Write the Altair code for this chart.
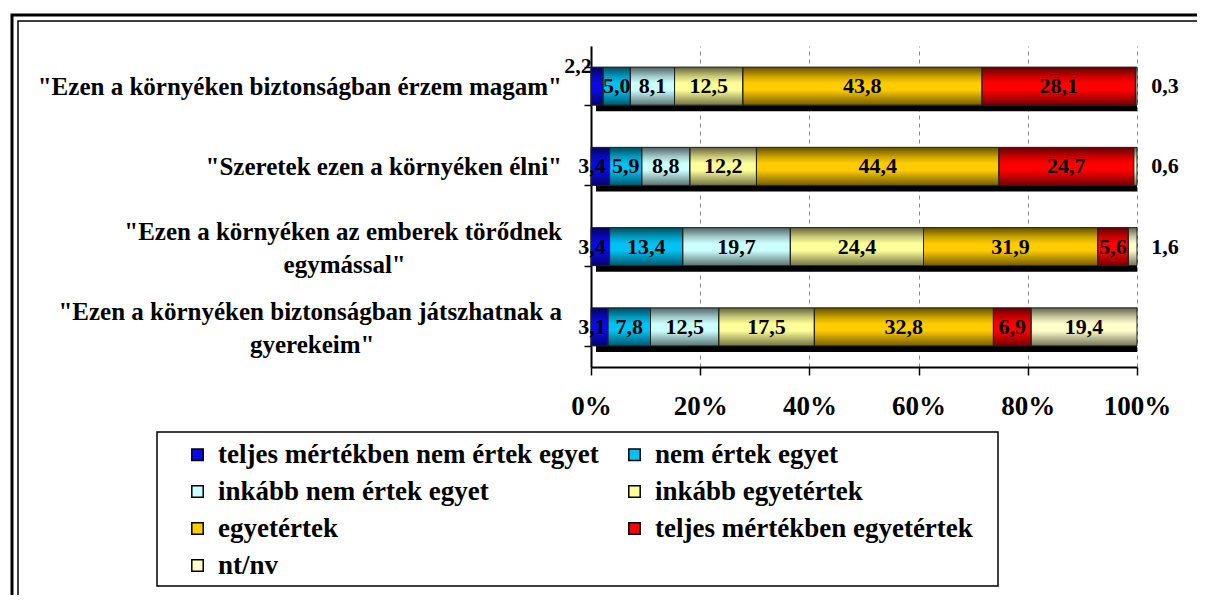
import altair as alt
import pandas as pd

# ---------------- data ----------------
categories = [
    '"Ezen a környéken biztonságban érzem magam"',
    '"Szeretek ezen a környéken élni"',
    '"Ezen a környéken az emberek törődnek|egymással"',
    '"Ezen a környéken biztonságban játszhatnak a|gyerekeim"',
]
series = [
    "teljes mértékben nem értek egyet",
    "nem értek egyet",
    "inkább nem értek egyet",
    "inkább egyetértek",
    "egyetértek",
    "teljes mértékben egyetértek",
    "nt/nv",
]
colors = ["#0a0ae8", "#00c2f2", "#ccffff", "#ffff99", "#ffcc00", "#ff0000", "#ffffcc"]

v_biztonsag = [2.2, 5.0, 8.1, 12.5, 43.8, 28.1, 0.3]
v_szeretek = [3.4, 5.9, 8.8, 12.2, 44.4, 24.7, 0.6]
v_torodnek = [3.4, 13.4, 19.7, 24.4, 31.9, 5.6, 1.6]
v_gyerekek = [3.1, 7.8, 12.5, 17.5, 32.8, 6.9, 19.4]
row_values = [v_biztonsag, v_szeretek, v_torodnek, v_gyerekek]

records = []
for ci, (cat, vals) in enumerate(zip(categories, row_values)):
    for si, (s, v) in enumerate(zip(series, vals)):
        records.append({"cat": cat, "ci": ci, "series": s, "si": si, "value": v})
df = pd.DataFrame(records)

FONT = "Liberation Serif"
NBSP = "\u00a0"
ZWSP = "\u200b"
line2_pad = {2: 25, 3: 30}   # centre the second line under the first

cat_rows = []
for ci, cat in enumerate(categories):
    lines = cat.split("|")
    if len(lines) > 1:
        lines[1] = lines[1] + NBSP * line2_pad.get(ci, 0) + ZWSP
    cat_rows.append({"cat": cat, "text": lines, "n": len(lines)})
cat_df = pd.DataFrame(cat_rows)

legend_order = series[0::2] + series[1::2]
legend_colors = colors[0::2] + colors[1::2]

base = (
    alt.Chart(df)
    .transform_window(
        cum="sum(value)", groupby=["cat"], sort=[alt.SortField("si")], frame=[None, 0]
    )
    .transform_calculate(
        end="datum.cum / 100",
        start="(datum.cum - datum.value) / 100",
        mid="(datum.cum - datum.value / 2) / 100",
        zero="0",
        lab="replace(format(datum.value, '.1f'), '.', ',')",
    )
)

yscale = alt.Scale(domain=categories, paddingInner=0.526, paddingOuter=0.263)
xscale = alt.Scale(domain=[0, 1], nice=False)

y_enc = alt.Y(
    "cat:N",
    scale=yscale,
    sort=categories,
    axis=alt.Axis(
        title=None,
        labels=False,
        tickSize=7,
        tickColor="black",
        tickWidth=1.5,
        tickBand="extent",
        domainColor="black",
        domainWidth=2,
        grid=False,
    ),
)

x_axis = alt.Axis(
    title=None,
    format=".0%",
    values=[0, 0.2, 0.4, 0.6, 0.8, 1.0],
    grid=True,
    gridDash=[4, 4],
    gridColor="#8a8a8a",
    gridWidth=1,
    domainColor="black",
    domainWidth=2,
    tickColor="black",
    tickWidth=1.5,
    tickSize=8,
    labelFont=FONT,
    labelFontSize=27,
    labelFontWeight="bold",
    labelColor="black",
    labelPadding=18,
    labelFlush=False,
)

shadow = base.transform_filter("datum.si == 6").mark_bar(color="black", xOffset=5, yOffset=6).encode(
    x=alt.X("zero:Q", scale=xscale, axis=x_axis),
    x2="end:Q",
    y=y_enc,
)

bars = base.mark_bar().encode(
    x=alt.X("start:Q", scale=xscale, axis=x_axis),
    x2="end:Q",
    y=y_enc,
    color=alt.Color(
        "series:N",
        scale=alt.Scale(domain=legend_order, range=legend_colors),
        sort=legend_order,
        legend=alt.Legend(
            title=None,
            orient="none",
            legendX=-407,
            legendY=395,
            columns=2,
            columnPadding=22,
            rowPadding=9,
            padding=0,
            symbolType="square",
            symbolSize=130,
            symbolStrokeColor="black",
            symbolStrokeWidth=1.5,
            labelFont=FONT,
            labelFontSize=27,
            labelFontWeight="bold",
            labelColor="black",
            labelLimit=1000,
            labelOffset=7,
        ),
    ),
)

shade = base.mark_bar(
    stroke="#222222",
    strokeWidth=1,
    color=alt.Gradient(
        gradient="linear",
        x1=0, x2=0, y1=0, y2=1,
        stops=[
            alt.GradientStop(color="rgba(0,0,0,0.62)", offset=0),
            alt.GradientStop(color="rgba(0,0,0,0.2)", offset=0.25),
            alt.GradientStop(color="rgba(0,0,0,0)", offset=0.42),
            alt.GradientStop(color="rgba(0,0,0,0)", offset=0.6),
            alt.GradientStop(color="rgba(0,0,0,0.55)", offset=1),
        ],
    ),
).encode(x="start:Q", x2="end:Q", y=y_enc)

text_style = dict(font=FONT, fontSize=22, fontWeight="bold", color="black", baseline="middle")

lab_main = base.transform_filter("datum.value >= 4").mark_text(align="center", **text_style).encode(
    x="mid:Q", y=y_enc, text="lab:N"
)
lab_first = base.transform_filter("datum.si == 0 && datum.value < 4 && datum.ci > 0").mark_text(
    align="center", dx=1, **text_style
).encode(x="start:Q", y=y_enc, text="lab:N")
lab_first_top = base.transform_filter("datum.si == 0 && datum.ci == 0").mark_text(
    align="center", dx=-13, dy=-20, **text_style
).encode(x="start:Q", y=y_enc, text="lab:N")
lab_last = base.transform_filter("datum.si == 6 && datum.value < 4").mark_text(
    align="center", dx=28, **text_style
).encode(x="end:Q", y=y_enc, text="lab:N")

# category labels (left of the axis)
cat_style = dict(font=FONT, fontSize=25, fontWeight="bold", color="black",
                 baseline="middle", align="right", lineHeight=33)
cat_base = alt.Chart(cat_df)
cat_single = cat_base.transform_filter("datum.n == 1").mark_text(dy=1, **cat_style).encode(
    x=alt.value(-29), y=y_enc, text="text"
)
cat_multi = cat_base.transform_filter("datum.n > 1").mark_text(dy=-15, **cat_style).encode(
    x=alt.value(-29), y=y_enc, text="text"
)

deco = alt.Chart(alt.Data(values=[{"a": 1}]))
frame_outer = deco.mark_rect(fill="transparent", stroke="black", strokeWidth=3).encode(
    x=alt.value(-579), x2=alt.value(700), y=alt.value(-31), y2=alt.value(700)
)
frame_inner = deco.mark_rect(fill="transparent", stroke="black", strokeWidth=1.5).encode(
    x=alt.value(-573), x2=alt.value(700), y=alt.value(-25), y2=alt.value(700)
)
legend_box = deco.mark_rect(fill="transparent", stroke="black", strokeWidth=1.5).encode(
    x=alt.value(-434), x2=alt.value(407), y=alt.value(386), y2=alt.value(540)
)

chart = (
    alt.layer(frame_outer, frame_inner, legend_box, shadow, bars, shade,
              lab_main, lab_first, lab_first_top, lab_last, cat_single, cat_multi)
    .properties(
        width=546,
        height=321,
        padding={"left": 583, "top": 38, "right": 60, "bottom": 228},
        autosize=alt.AutoSizeParams(type="none"),
        background="white",
    )
    .configure_view(stroke=None)
)

chart.save("out.html", embed_options={"renderer": "svg", "actions": False})
